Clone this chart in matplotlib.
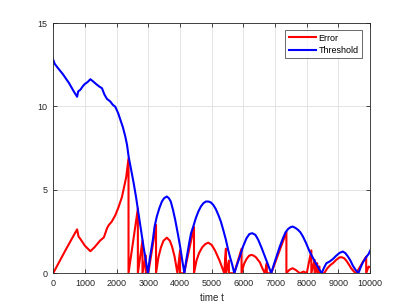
import matplotlib
matplotlib.use("Agg")
import matplotlib.pyplot as plt

# Threshold (blue) readings
thr_t = [0, 50, 150, 300, 500, 650, 755, 790, 858, 930, 1000, 1080, 1173, 1260, 1350, 1450,
         1540, 1620, 1698, 1800, 1880, 1959, 2050, 2120, 2200, 2275, 2330, 2380, 2460, 2540,
         2620, 2690, 2770, 2850, 2920, 2990,
         3050, 3145, 3200, 3270, 3350, 3430, 3500, 3585, 3650, 3710, 3780, 3850, 3930, 4005,
         4070, 4140,
         4200, 4290, 4350, 4420, 4500, 4580, 4660, 4740, 4820, 4895, 4970, 5050, 5130, 5210,
         5290, 5365, 5450, 5520, 5575, 5650, 5715,
         5800, 5890, 5990, 6100, 6190, 6280, 6380, 6470, 6580, 6680, 6780, 6880,
         6960, 7045, 7150, 7250, 7330, 7410, 7480, 7550, 7640, 7725, 7800, 7880, 7980, 8090,
         8200, 8300, 8390, 8470,
         8550, 8620, 8720, 8825, 8930, 9035, 9140, 9220, 9300, 9380, 9455, 9540, 9630,
         9700, 9770, 9870, 9950, 10000]
thr_v = [12.8, 12.55, 12.3, 11.95, 11.4, 10.9, 10.58, 10.9, 11.0, 11.2, 11.35, 11.45, 11.63, 11.5, 11.35, 11.2,
         11.09, 10.7, 10.45, 10.3, 10.1, 9.98, 9.6, 9.2, 8.75, 8.2, 7.7, 7.0, 6.2, 5.4,
         4.5, 3.6, 2.6, 1.6, 0.8, 0.0,
         0.9, 2.0, 2.8, 3.4, 3.9, 4.3, 4.5, 4.6, 4.5, 4.3, 3.8, 3.2, 2.4, 1.6,
         0.8, 0.0,
         0.8, 1.8, 2.4, 2.8, 3.3, 3.7, 4.0, 4.2, 4.3, 4.3, 4.25, 4.1, 3.85, 3.5,
         3.1, 2.6, 2.0, 1.4, 1.0, 0.5, 0.0,
         0.5, 1.0, 1.6, 2.1, 2.35, 2.4, 2.3, 2.0, 1.5, 1.0, 0.5, 0.0,
         0.5, 1.0, 1.6, 2.1, 2.45, 2.65, 2.75, 2.8, 2.72, 2.6, 2.45, 2.2, 1.8, 1.3,
         0.9, 0.55, 0.25, 0.0,
         0.35, 0.6, 0.7, 0.85, 1.05, 1.22, 1.3, 1.2, 1.0, 0.75, 0.45, 0.2, 0.0,
         0.35, 0.65, 0.95, 1.15, 1.35]

# Error (red) readings (repeated times are the vertical resets)
err_t = [0, 380, 754, 800, 860, 1000, 1173, 1300, 1487, 1600, 1700, 1749, 1850, 1959, 2060,
         2170, 2305, 2377, 2377, 2672, 2672, 2818, 2818, 2923, 2923, 3000, 3245, 3245,
         3320, 3400, 3480, 3585, 3680, 3750, 3830, 3920, 4003, 4003, 4130, 4443, 4443,
         4520, 4600, 4700, 4800, 4893, 5000, 5104, 5180, 5250, 5330,
         5396, 5450, 5450, 5544, 5544, 5710, 5943, 5943,
         6020, 6100, 6180, 6258, 6330, 6400, 6460, 6519, 6600, 6676,
         6740, 6740, 6880, 7358, 7358, 7450, 7550, 7650, 7780, 7900, 8000, 8145, 8145,
         8250, 8250, 8330, 8330, 8400, 8400, 8550, 8650, 8750, 8825, 8930, 9035, 9100,
         9180, 9250, 9320, 9400, 9480,
         9560, 9875, 9875, 9950, 10000]
err_v = [0.0, 1.35, 2.63, 2.2, 2.05, 1.65, 1.32, 1.55, 1.97, 2.15, 2.7, 2.87, 3.1, 3.47, 3.95,
         4.57, 5.77, 6.88, 0.0, 3.87, 0.0, 1.97, 0.0, 1.06, 0.0, 0.0, 2.9, 0.0,
         0.95, 1.55, 1.95, 2.13, 1.95, 1.6, 1.0, 0.0, 1.37, 0.0, 0.0, 2.77, 0.0,
         0.75, 1.2, 1.55, 1.75, 1.83, 1.7, 1.37, 1.05, 0.75, 0.35,
         0.0, 1.47, 0.0, 0.76, 0.0, 0.0, 1.47, 0.0,
         0.55, 0.85, 1.05, 1.1, 1.05, 0.95, 0.8, 0.66, 0.3, 0.0,
         0.6, 0.0, 0.0, 2.47, 0.0, 0.2, 0.3, 0.2, 0.0, 0.1, 0.0, 1.37, 0.0,
         0.8, 0.0, 0.6, 0.0, 0.4, 0.0, 0.0, 0.3, 0.5, 0.6, 0.8, 0.95, 0.96,
         0.9, 0.75, 0.55, 0.3, 0.12,
         0.0, 1.0, 0.0, 0.4, 0.35]

xticks = list(range(0, 10001, 1000))
yticks = [0, 5, 10, 15]

plt.rcParams['font.family'] = ['Liberation Sans', 'DejaVu Sans']
axc = '#262626'

fig = plt.figure(figsize=(4.09, 3.07), dpi=100)
ax = fig.add_axes([0.13, 0.11, 0.775, 0.815])
ax.plot(err_t, err_v, color='#ff0000', lw=1.5, label='Error')
ax.plot(thr_t, thr_v, color='#0000ff', lw=1.5, label='Threshold')
ax.set_xlim(0, 10000)
ax.set_ylim(0, 15)
ax.set_xticks(xticks)
ax.set_yticks(yticks)
ax.grid(True, color='#dfdfdf', lw=0.6)
ax.set_axisbelow(True)
ax.tick_params(direction='in', length=3, width=0.6, colors=axc, labelsize=6.5,
               top=True, right=True, pad=4)
for s in ax.spines.values():
    s.set_color(axc)
    s.set_linewidth(0.6)
ax.set_xlabel('time t', fontsize=7, color=axc, labelpad=4)
leg = ax.legend(loc='upper right', fontsize=6.5, frameon=True, fancybox=False,
                edgecolor=axc, handlelength=3.0, borderpad=0.4, labelspacing=0.35,
                handletextpad=0.3, borderaxespad=0, bbox_to_anchor=(0.975, 0.972))
leg.get_frame().set_linewidth(0.6)
fig.savefig('out.png', dpi=100)
